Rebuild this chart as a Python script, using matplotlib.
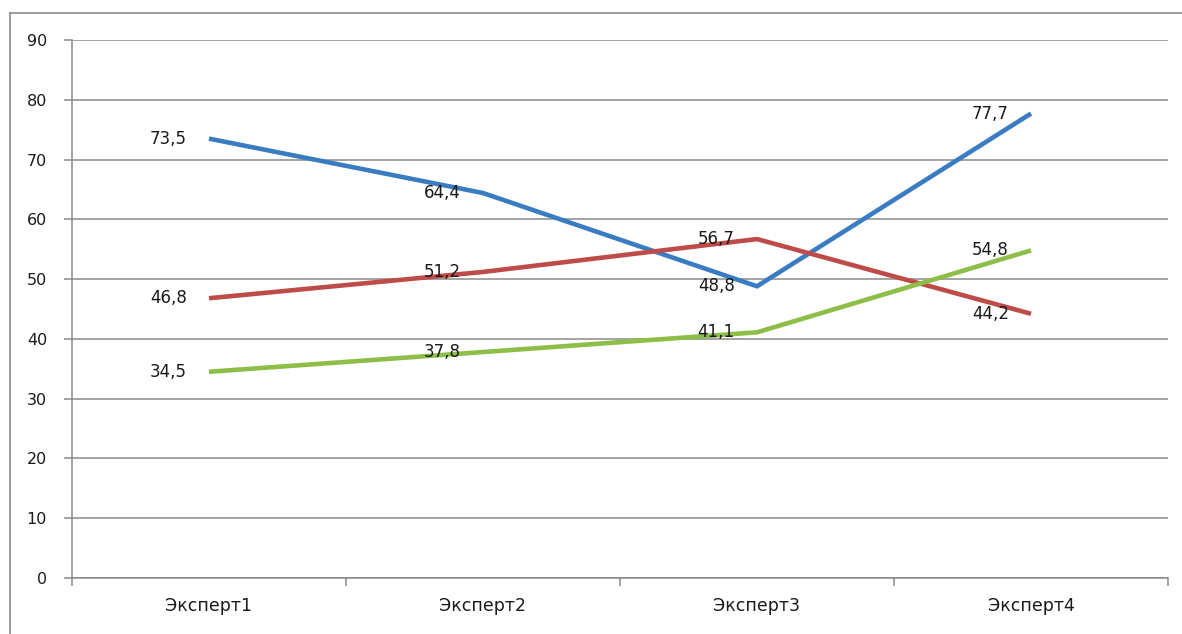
import matplotlib
matplotlib.use("Agg")
import matplotlib.pyplot as plt
from matplotlib.lines import Line2D

categories = ["Эксперт1", "Эксперт2", "Эксперт3", "Эксперт4"]
series_blue = [73.5, 64.4, 48.8, 77.7]
series_red = [46.8, 51.2, 56.7, 44.2]
series_green = [34.5, 37.8, 41.1, 54.8]
yticks = [0, 10, 20, 30, 40, 50, 60, 70, 80, 90]

colors = ["#3A7CC2", "#BE4B48", "#8DBE48"]

W, H = 1182, 634
fig = plt.figure(figsize=(W / 100, H / 100), dpi=100)
fig.patch.set_facecolor("white")

# outer chart frame (clipped at right and bottom)
fig.add_artist(Line2D([10 / W, 1.0], [1 - 13 / H, 1 - 13 / H], transform=fig.transFigure,
                      color="#8a8a8a", lw=1.2))
fig.add_artist(Line2D([10 / W, 10 / W], [1 - 13 / H, 0.0], transform=fig.transFigure,
                      color="#8a8a8a", lw=1.2))

ax = fig.add_axes([72 / W, 1 - 578 / H, (1168 - 72) / W, (578 - 40) / H])
x = list(range(len(categories)))

for vals, c in zip([series_blue, series_red, series_green], colors):
    ax.plot(x, vals, color=c, lw=3.3, solid_capstyle="butt", solid_joinstyle="miter", zorder=3)
    for xi, v in zip(x, vals):
        ax.annotate(f"{v:.1f}".replace(".", ","), (xi, v), xytext=(-16, 0),
                    textcoords="offset points", ha="right", va="center",
                    fontsize=12, color="#1a1a1a", zorder=4)

ax.set_xlim(-0.5, len(categories) - 0.5)
ax.set_ylim(0, 90)
ax.set_yticks(yticks)
ax.set_yticklabels([str(t) for t in yticks], fontsize=11.5, color="#1a1a1a")
ax.yaxis.grid(True, color="#8a8a8a", lw=1.1)
ax.set_axisbelow(True)

ax.set_xticks(x)
ax.set_xticklabels(categories, fontsize=12.5, color="#1a1a1a")
ax.set_xticks([i - 0.5 for i in range(len(categories) + 1)], minor=True)
ax.tick_params(axis="x", which="major", length=0, pad=14)
ax.tick_params(axis="x", which="minor", length=6, width=1.1, color="#8a8a8a", direction="out")
ax.tick_params(axis="y", length=6, width=1.1, color="#8a8a8a", direction="out", pad=12)

for s in ["top", "right"]:
    ax.spines[s].set_visible(False)
for s in ["left", "bottom"]:
    ax.spines[s].set_color("#8a8a8a")
    ax.spines[s].set_linewidth(1.1)

fig.savefig("out.png", dpi=100, facecolor="white")
